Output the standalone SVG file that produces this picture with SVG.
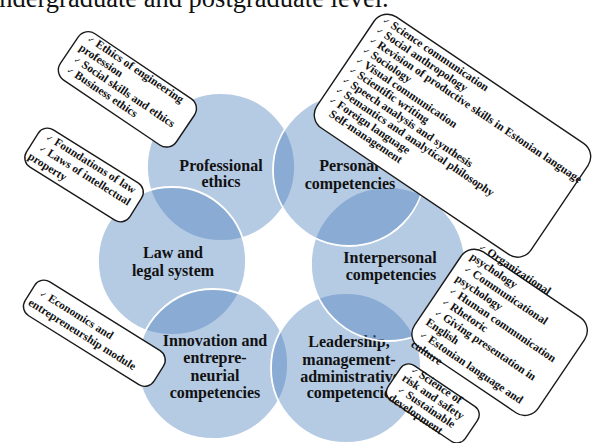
<svg xmlns="http://www.w3.org/2000/svg" width="597" height="443" viewBox="0 0 597 443">
<style>
.c{fill:#4f81bd;fill-opacity:0.42;stroke:#ffffff;stroke-width:1.8}
.lb{font-family:"Liberation Serif","Times New Roman",serif;font-weight:bold;font-size:16px;fill:#111;text-anchor:middle}
.bx{fill:#ffffff;stroke:#1a1a1a;stroke-width:1.4}
.bt{font-family:"Liberation Serif","Times New Roman",serif;font-weight:bold;font-size:11.5px;fill:#111}
.ck{font-family:"DejaVu Sans",sans-serif;font-weight:normal;font-size:8px}
.top{font-family:"Liberation Serif","Times New Roman",serif;font-size:26.5px;fill:#111}
</style>
<rect width="597" height="443" fill="#ffffff"/>
<text class="top" x="-14" y="7">undergraduate and postgraduate level.</text>

<g id="node-professional-ethics">
<circle class="c" cx="221" cy="167" r="74"/>
<text class="lb" x="221" y="171">Professional</text>
<text class="lb" x="221" y="187">ethics</text>
</g>
<g id="node-law">
<circle class="c" cx="172" cy="261" r="74"/>
<text class="lb" x="173" y="258">Law and</text>
<text class="lb" x="173" y="276">legal system</text>
</g>
<g id="node-innovation">
<circle class="c" cx="213" cy="364" r="75"/>
<text class="lb" x="215" y="346">Innovation and</text>
<text class="lb" x="215" y="363">entrepre-</text>
<text class="lb" x="215" y="381">neurial</text>
<text class="lb" x="215" y="398">competencies</text>
</g>
<g id="node-leadership">
<circle class="c" cx="346" cy="368" r="75"/>
<text class="lb" x="349" y="347">Leadership,</text>
<text class="lb" x="349" y="365">management-</text>
<text class="lb" x="350" y="382">administrative</text>
<text class="lb" x="352" y="398">competencies</text>
</g>
<g id="node-interpersonal">
<circle class="c" cx="388" cy="264" r="77"/>
<text class="lb" x="390" y="263">Interpersonal</text>
<text class="lb" x="391" y="280">competencies</text>
</g>
<g id="node-personal">
<circle class="c" cx="349" cy="170" r="76"/>
<text class="lb" x="349" y="171">Personal</text>
<text class="lb" x="350" y="189">competencies</text>
</g>

<g id="connectors"></g>

<g id="box-ethics" transform="translate(85,27) rotate(34)">
<rect class="bx" x="0" y="0" width="140" height="56" rx="12"/>
<text class="bt"><tspan x="9" y="10"><tspan class="ck">✓</tspan> Ethics of engineering</tspan><tspan x="7" y="22.5">profession</tspan><tspan x="9" y="35"><tspan class="ck">✓</tspan> Social skills and ethics</tspan><tspan x="9" y="47.5"><tspan class="ck">✓</tspan> Business ethics</tspan></text>
</g>

<g id="box-personal" transform="translate(383,8) rotate(34)">
<rect class="bx" x="0" y="0" width="258" height="134" rx="16"/>
<text class="bt"><tspan x="7" y="12"><tspan class="ck">✓</tspan> Science communication</tspan><tspan x="7" y="24"><tspan class="ck">✓</tspan> Social anthropology</tspan><tspan x="7" y="36"><tspan class="ck">✓</tspan> Revision of productive skills in Estonian language</tspan><tspan x="7" y="48"><tspan class="ck">✓</tspan> Sociology</tspan><tspan x="7" y="60"><tspan class="ck">✓</tspan> Visual communication</tspan><tspan x="7" y="72"><tspan class="ck">✓</tspan> Scientific writing</tspan><tspan x="7" y="84"><tspan class="ck">✓</tspan> Speech analysis and synthesis</tspan><tspan x="7" y="96"><tspan class="ck">✓</tspan> Semantics and analytical philosophy</tspan><tspan x="7" y="108"><tspan class="ck">✓</tspan> Foreign language</tspan><tspan x="15" y="120">Self-management</tspan></text>
</g>

<g id="box-law" transform="translate(44,124) rotate(32)">
<rect class="bx" x="0" y="0" width="122" height="44" rx="11"/>
<text class="bt"><tspan x="9" y="12"><tspan class="ck">✓</tspan> Foundations of law</tspan><tspan x="9" y="25"><tspan class="ck">✓</tspan> Laws of intellectual</tspan><tspan x="4" y="38">property</tspan></text>
</g>

<g id="box-interpersonal" transform="translate(470,243) rotate(34)">
<rect class="bx" x="0" y="0" width="149" height="115" rx="16"/>
<text class="bt"><tspan x="10" y="0"><tspan class="ck">✓</tspan> Organizational</tspan><tspan x="8" y="13.2">psychology</tspan><tspan x="10" y="26.4"><tspan class="ck">✓</tspan> Communicational</tspan><tspan x="8" y="39.6">psychology</tspan><tspan x="10" y="52.8"><tspan class="ck">✓</tspan> Human communication</tspan><tspan x="10" y="66"><tspan class="ck">✓</tspan> Rhetoric</tspan><tspan x="10" y="79.2"><tspan class="ck">✓</tspan> Giving presentation in</tspan><tspan x="8" y="92.4">English</tspan><tspan x="10" y="105.6"><tspan class="ck">✓</tspan> Estonian language and</tspan><tspan x="8" y="118.8">culture</tspan></text>
</g>

<g id="box-innovation" transform="translate(40.5,276) rotate(32)">
<rect class="bx" x="0" y="0" width="152" height="40" rx="11"/>
<text class="bt"><tspan x="9" y="17"><tspan class="ck">✓</tspan> Economics and</tspan><tspan x="4" y="31">entrepreneurship module</tspan></text>
</g>

<g id="box-leadership" transform="translate(406,360) rotate(34)">
<rect class="bx" x="0" y="0" width="93" height="42" rx="10"/>
<text class="bt"><tspan x="10" y="7"><tspan class="ck">✓</tspan> Science of</tspan><tspan x="7" y="19">risk and safety</tspan><tspan x="10" y="31"><tspan class="ck">✓</tspan> Sustainable</tspan><tspan x="7" y="43">development</tspan></text>
</g>
</svg>
